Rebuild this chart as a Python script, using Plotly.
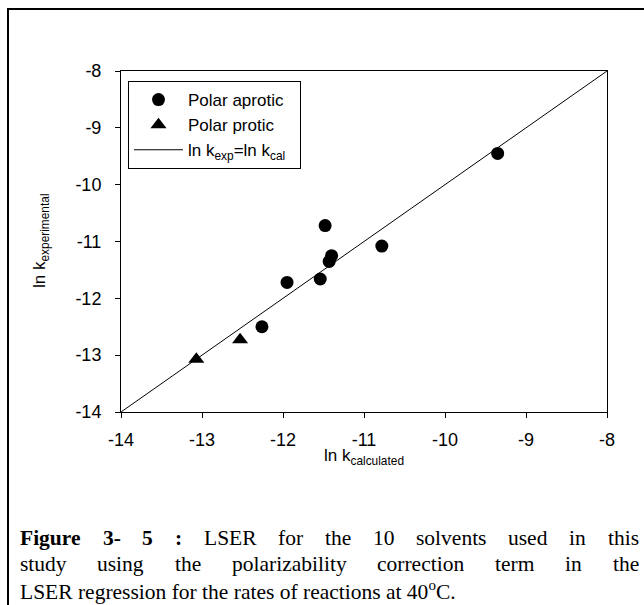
import plotly.graph_objects as go

# ---------------- data ----------------
aprotic_x = [-9.35, -11.48, -10.78, -11.40, -11.43, -11.95, -11.54, -12.26]
aprotic_y = [-9.45, -10.72, -11.08, -11.25, -11.35, -11.72, -11.66, -12.50]
protic_x = [-12.53, -13.07]
protic_y = [-12.73, -13.07]
line_x = [-14, -8]
line_y = [-14, -8]
tick_vals = [-14, -13, -12, -11, -10, -9, -8]
tick_text = ["-14", "-13", "-12", "-11", "-10", "-9", "-8"]

caption_lines = [
    ["<b>Figure</b>", "<b>3-</b>", "<b>5</b>", "<b>:</b>", "LSER", "for", "the", "10",
     "solvents", "used", "in", "this"],
    ["study", "using", "the", "polarizability", "correction", "term", "in", "the"],
    ["LSER regression for the rates of reactions at 40<sup>o</sup>C."],
]

# ---------------- layout helpers ----------------
W, H = 644, 605


def px(x):
    return x / W


def py(y):
    return 1 - y / H


# Times / Liberation Serif advance widths (1/1000 em)
REG = {' ': 250, 'a': 444, 'b': 500, 'c': 444, 'd': 500, 'e': 444, 'f': 333, 'g': 500,
       'h': 500, 'i': 278, 'j': 278, 'k': 500, 'l': 278, 'm': 778, 'n': 500, 'o': 500,
       'p': 500, 'q': 500, 'r': 333, 's': 389, 't': 278, 'u': 500, 'v': 500, 'w': 722,
       'x': 500, 'y': 500, 'z': 444, '.': 250, ':': 278, '-': 333, 'L': 611, 'S': 556,
       'E': 611, 'R': 667, 'C': 667, 'F': 556}
BOLD = {'F': 611, 'i': 278, 'g': 500, 'u': 556, 'r': 444, 'e': 444, '-': 333, ':': 333}


def word_width(w, size):
    bold = w.startswith("<b>")
    s = w.replace("<b>", "").replace("</b>", "")
    tot = 0
    for ch in s:
        if ch.isdigit():
            tot += 500
        elif bold and ch in BOLD:
            tot += BOLD[ch]
        else:
            tot += REG.get(ch, 500)
    return tot * size / 1000.0


CAP_SIZE = 21.5
CAP_L, CAP_R = 18, 637
CAP_Y = [538, 564, 590]

fig = go.Figure()
fig.add_trace(go.Scatter(x=aprotic_x, y=aprotic_y, mode="markers", name="Polar aprotic",
                         marker=dict(symbol="circle", size=13, color="black")))
fig.add_trace(go.Scatter(x=protic_x, y=protic_y, mode="markers", name="Polar protic",
                         marker=dict(symbol="triangle-up", size=14, color="black")))
fig.add_trace(go.Scatter(x=line_x, y=line_y, mode="lines",
                         name="ln k<sub>exp</sub>=ln k<sub>cal</sub>\u00a0\u00a0",
                         line=dict(color="black", width=1)))

axis_common = dict(range=[-14, -8], tickvals=tick_vals, ticktext=tick_text,
                   ticks="outside", ticklen=5, tickcolor="black", tickwidth=1,
                   showline=True, linecolor="black", linewidth=1, mirror=True,
                   showgrid=False, zeroline=False, automargin=False,
                   tickfont=dict(family="Liberation Sans", size=18, color="black"))

fig.update_layout(
    width=W, height=H,
    margin=dict(l=0, r=0, t=0, b=0, pad=0, autoexpand=False),
    paper_bgcolor="white", plot_bgcolor="white",
    xaxis=dict(domain=[px(121), px(607)], ticklabelstandoff=6, **axis_common),
    yaxis=dict(domain=[py(412), py(71)], ticklabelstandoff=10, **axis_common),
    showlegend=True,
    legend=dict(x=px(128), y=py(81), xanchor="left", yanchor="top",
                bordercolor="black", borderwidth=1, bgcolor="white",
                font=dict(family="Liberation Sans", size=17, color="black"),
                itemwidth=49, tracegroupgap=0),
)

annotations = [
    dict(text="ln k<sub>calculated</sub>", x=px(364), y=py(457), xref="paper", yref="paper",
         showarrow=False, xanchor="center", yanchor="middle",
         font=dict(family="Liberation Sans", size=17, color="black")),
    dict(text="ln k<sub>experimental</sub>", x=px(41), y=py(241), xref="paper", yref="paper",
         showarrow=False, xanchor="center", yanchor="middle", textangle=-90,
         font=dict(family="Liberation Sans", size=17, color="black")),
]

for li, words in enumerate(caption_lines):
    yy = py(CAP_Y[li])
    if len(words) == 1:
        annotations.append(dict(text=words[0], x=px(CAP_L), y=yy, xref="paper", yref="paper",
                                showarrow=False, xanchor="left", yanchor="middle",
                                font=dict(family="Liberation Serif", size=CAP_SIZE, color="black")))
        continue
    widths = [word_width(w, CAP_SIZE) for w in words]
    gap = (CAP_R - CAP_L - sum(widths)) / (len(words) - 1)
    xpos = CAP_L
    for w, wd in zip(words, widths):
        annotations.append(dict(text=w, x=px(xpos), y=yy, xref="paper", yref="paper",
                                showarrow=False, xanchor="left", yanchor="middle",
                                font=dict(family="Liberation Serif", size=CAP_SIZE, color="black")))
        xpos += wd + gap

fig.update_layout(annotations=annotations)

fig.add_shape(type="rect", xref="paper", yref="paper",
              x0=px(8), y0=py(9), x1=1.05, y1=-0.05,
              line=dict(color="black", width=2), layer="above")

fig.write_html("out.html")
